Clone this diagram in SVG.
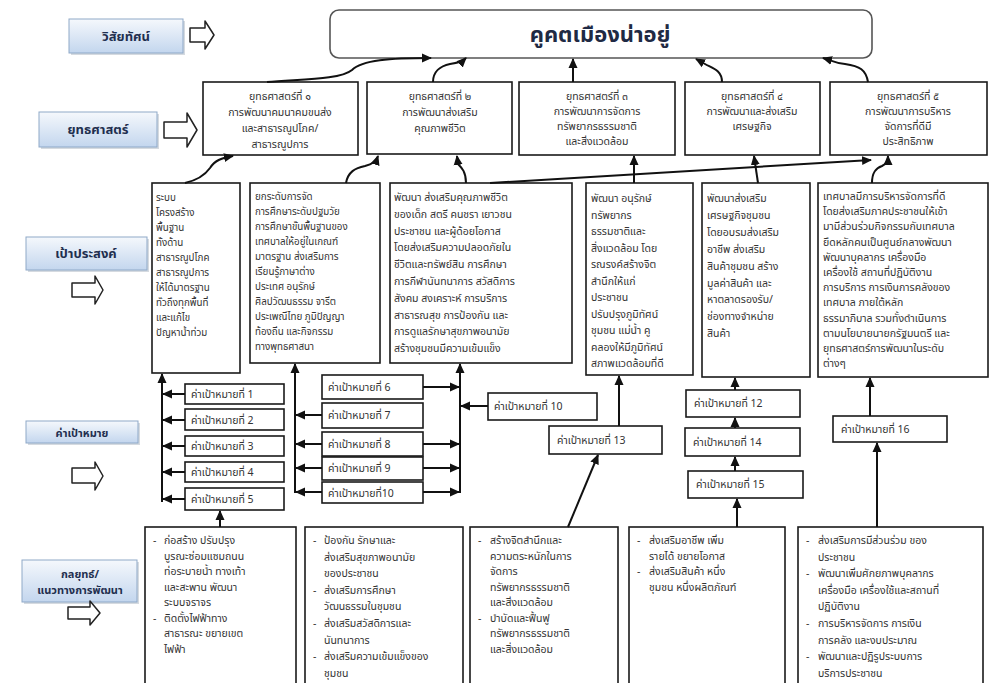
<svg xmlns="http://www.w3.org/2000/svg" width="989" height="683" viewBox="0 0 989 683">
<defs>
<linearGradient id="lg" x1="0" y1="0" x2="0" y2="1">
<stop offset="0" stop-color="#f5f8fc"/>
<stop offset="1" stop-color="#c3d6ee"/>
</linearGradient>
<marker id="ah" markerUnits="userSpaceOnUse" markerWidth="10" markerHeight="10" refX="9" refY="5" orient="auto">
<path d="M0,0.5 L10,5 L0,9.5 Z" fill="#111"/>
</marker>
<style>
.t{font-family:"Noto Sans Thai","Tahoma","Loma","Garuda","DejaVu Sans",sans-serif;font-size:10.5px;fill:#333}
.s{font-size:9.8px}
.c{text-anchor:middle}
.box{fill:#fff;stroke:#1a1a1a;stroke-width:1.6}
.lbl{fill:url(#lg);stroke:#8fa9c8;stroke-width:1}
.sh{fill:#b9c2cc;opacity:0.6}
.lt{font-family:"Noto Sans Thai","Tahoma","Loma","Garuda","DejaVu Sans",sans-serif;font-weight:bold;font-size:13px;fill:#1f2f4f;text-anchor:middle}
.con{fill:none;stroke:#111;stroke-width:2;marker-end:url(#ah)}
.blk{fill:#fff;stroke:#222;stroke-width:1.5;stroke-linejoin:round}
</style>
</defs>
<rect width="989" height="683" fill="#fff"/>

<!-- left labels -->
<g id="lbl-vision">
<rect class="sh" x="71" y="21" width="114" height="34"/>
<rect class="lbl" x="69" y="19" width="114" height="34"/>
<text class="lt" x="126" y="41">วิสัยทัศน์</text>
<path class="blk" d="M190 28 H205 V21 L214 35 L205 49 V42 H190 Z"/>
</g>
<g id="lbl-strategy">
<rect class="sh" x="41" y="114" width="118" height="35"/>
<rect class="lbl" x="39" y="112" width="118" height="35"/>
<text class="lt" x="98" y="134">ยุทธศาสตร์</text>
<path class="blk" d="M164 122 H187 V113 L197 130 L187 147 V138 H164 Z"/>
</g>
<g id="lbl-goal">
<rect class="sh" x="28" y="239" width="121" height="33"/>
<rect class="lbl" x="26" y="237" width="121" height="33"/>
<text class="lt" x="86" y="258">เป้าประสงค์</text>
<path class="blk" d="M72 283 H95 V276 L103 290 L95 304 V297 H72 Z"/>
</g>
<g id="lbl-target">
<rect class="sh" x="28" y="423" width="112" height="22"/>
<rect class="lbl" x="26" y="421" width="112" height="22"/>
<text class="lt" x="82" y="437" style="font-size:11px">ค่าเป้าหมาย</text>
<path class="blk" d="M72 468 H95 V462 L103 476 L95 490 V483 H72 Z"/>
</g>
<g id="lbl-tactic">
<rect class="sh" x="24" y="562" width="115" height="42"/>
<rect class="lbl" x="22" y="560" width="115" height="42"/>
<text class="lt" x="80" y="578" style="font-size:11px">กลยุทธ์/</text>
<text class="lt" x="80" y="594" style="font-size:11px">แนวทางการพัฒนา</text>
<path class="blk" d="M68 607 H90 V601 L100 613 L90 625 V619 H68 Z"/>
</g>

<!-- vision -->
<g id="vision">
<rect x="330" y="10" width="542" height="48" rx="9" fill="#fff" stroke="#555" stroke-width="1.6"/>
<text class="t c" x="600" y="42" style="font-size:22px;font-weight:bold;fill:#1f2a44">คูคตเมืองน่าอยู่</text>
</g>

<!-- strategies -->
<g id="s1">
<rect class="box" x="203" y="82" width="155" height="73"/>
<text class="t c" x="280" y="100"><tspan x="280">ยุทธศาสตร์ที่ ๑</tspan><tspan x="280" dy="16">การพัฒนาคมนาคมขนส่ง</tspan><tspan x="280" dy="16">และสาธารณูปโภค/</tspan><tspan x="280" dy="16">สาธารณูปการ</tspan></text>
</g>
<g id="s2">
<rect class="box" x="367" y="82" width="145" height="72"/>
<text class="t c" x="440" y="100"><tspan x="440">ยุทธศาสตร์ที่ ๒</tspan><tspan x="440" dy="16">การพัฒนาส่งเสริม</tspan><tspan x="440" dy="16">คุณภาพชีวิต</tspan></text>
</g>
<g id="s3">
<rect class="box" x="519" y="82" width="156" height="73"/>
<text class="t c" x="597" y="100"><tspan x="597">ยุทธศาสตร์ที่ ๓</tspan><tspan x="597" dy="15">การพัฒนาการจัดการ</tspan><tspan x="597" dy="15">ทรัพยากรธรรมชาติ</tspan><tspan x="597" dy="15">และสิ่งแวดล้อม</tspan></text>
</g>
<g id="s4">
<rect class="box" x="685" y="82" width="135" height="73"/>
<text class="t c" x="752" y="100"><tspan x="752">ยุทธศาสตร์ที่ ๔</tspan><tspan x="752" dy="15">การพัฒนาและส่งเสริม</tspan><tspan x="752" dy="15">เศรษฐกิจ</tspan></text>
</g>
<g id="s5">
<rect class="box" x="830" y="82" width="157" height="73"/>
<text class="t c" x="908" y="100"><tspan x="908">ยุทธศาสตร์ที่ ๕</tspan><tspan x="908" dy="15">การพัฒนาการบริหาร</tspan><tspan x="908" dy="15">จัดการที่ดีมี</tspan><tspan x="908" dy="15">ประสิทธิภาพ</tspan></text>
</g>

<!-- goals -->
<g id="g1">
<rect class="box" x="152" y="183" width="88" height="190"/>
<text class="t s" x="156" y="201"><tspan x="156">ระบบ</tspan><tspan x="156" dy="15">โครงสร้าง</tspan><tspan x="156" dy="15">พื้นฐาน</tspan><tspan x="156" dy="15">ทั้งด้าน</tspan><tspan x="156" dy="15">สาธารณูปโภค</tspan><tspan x="156" dy="15">สาธารณูปการ</tspan><tspan x="156" dy="15">ให้ได้มาตรฐาน</tspan><tspan x="156" dy="15">ทั่วถึงทุกพื้นที่</tspan><tspan x="156" dy="15">และแก้ไข</tspan><tspan x="156" dy="15">ปัญหาน้ำท่วม</tspan></text>
</g>
<g id="g2">
<rect class="box" x="250" y="183" width="130" height="180"/>
<text class="t s" x="255" y="200"><tspan x="255">ยกระดับการจัด</tspan><tspan x="255" dy="15">การศึกษาระดับปฐมวัย</tspan><tspan x="255" dy="15">การศึกษาขั้นพื้นฐานของ</tspan><tspan x="255" dy="15">เทศบาลให้อยู่ในเกณฑ์</tspan><tspan x="255" dy="15">มาตรฐาน ส่งเสริมการ</tspan><tspan x="255" dy="15">เรียนรู้ภาษาต่าง</tspan><tspan x="255" dy="15">ประเทศ อนุรักษ์</tspan><tspan x="255" dy="15">ศิลปวัฒนธรรม จารีต</tspan><tspan x="255" dy="15">ประเพณีไทย ภูมิปัญญา</tspan><tspan x="255" dy="15">ท้องถิ่น และกิจกรรม</tspan><tspan x="255" dy="15">ทางพุทธศาสนา</tspan></text>
</g>
<g id="g3">
<rect class="box" x="390" y="183" width="182" height="180"/>
<text class="t" x="394" y="201"><tspan x="394">พัฒนา ส่งเสริมคุณภาพชีวิต</tspan><tspan x="394" dy="16.8">ของเด็ก สตรี คนชรา เยาวชน</tspan><tspan x="394" dy="16.8">ประชาชน และผู้ด้อยโอกาส</tspan><tspan x="394" dy="16.8">โดยส่งเสริมความปลอดภัยใน</tspan><tspan x="394" dy="16.8">ชีวิตและทรัพย์สิน การศึกษา</tspan><tspan x="394" dy="16.8">การกีฬานันทนาการ สวัสดิการ</tspan><tspan x="394" dy="16.8">สังคม สงเคราะห์ การบริการ</tspan><tspan x="394" dy="16.8">สาธารณสุข การป้องกัน และ</tspan><tspan x="394" dy="16.8">การดูแลรักษาสุขภาพอนามัย</tspan><tspan x="394" dy="16.8">สร้างชุมชนมีความเข้มแข็ง</tspan></text>
</g>
<g id="g4">
<rect class="box" x="586" y="183" width="107" height="192"/>
<text class="t" x="591" y="202"><tspan x="591">พัฒนา อนุรักษ์</tspan><tspan x="591" dy="16.5">ทรัพยากร</tspan><tspan x="591" dy="16.5">ธรรมชาติและ</tspan><tspan x="591" dy="16.5">สิ่งแวดล้อม โดย</tspan><tspan x="591" dy="16.5">รณรงค์สร้างจิต</tspan><tspan x="591" dy="16.5">สำนึกให้แก่</tspan><tspan x="591" dy="16.5">ประชาชน</tspan><tspan x="591" dy="16.5">ปรับปรุงภูมิทัศน์</tspan><tspan x="591" dy="16.5">ชุมชน แม่น้ำ คู</tspan><tspan x="591" dy="16.5">คลองให้มีภูมิทัศน์</tspan><tspan x="591" dy="16.5">สภาพแวดล้อมที่ดี</tspan></text>
</g>
<g id="g5">
<rect class="box" x="702" y="183" width="108" height="194"/>
<text class="t" x="707" y="202"><tspan x="707">พัฒนาส่งเสริม</tspan><tspan x="707" dy="16.9">เศรษฐกิจชุมชน</tspan><tspan x="707" dy="16.9">โดยอบรมส่งเสริม</tspan><tspan x="707" dy="16.9">อาชีพ ส่งเสริม</tspan><tspan x="707" dy="16.9">สินค้าชุมชน สร้าง</tspan><tspan x="707" dy="16.9">มูลค่าสินค้า และ</tspan><tspan x="707" dy="16.9">หาตลาดรองรับ/</tspan><tspan x="707" dy="16.9">ช่องทางจำหน่าย</tspan><tspan x="707" dy="16.9">สินค้า</tspan></text>
</g>
<g id="g6">
<rect class="box" x="818" y="183" width="170" height="194"/>
<text class="t" x="823" y="200"><tspan x="823">เทศบาลมีการบริหารจัดการที่ดี</tspan><tspan x="823" dy="15.2">โดยส่งเสริมภาคประชาชนให้เข้า</tspan><tspan x="823" dy="15.2">มามีส่วนร่วมกิจกรรมกับเทศบาล</tspan><tspan x="823" dy="15.2">ยึดหลักคนเป็นศูนย์กลางพัฒนา</tspan><tspan x="823" dy="15.2">พัฒนาบุคลากร เครื่องมือ</tspan><tspan x="823" dy="15.2">เครื่องใช้ สถานที่ปฏิบัติงาน</tspan><tspan x="823" dy="15.2">การบริการ การเงินการคลังของ</tspan><tspan x="823" dy="15.2">เทศบาล ภายใต้หลัก</tspan><tspan x="823" dy="15.2">ธรรมาภิบาล รวมทั้งดำเนินการ</tspan><tspan x="823" dy="15.2">ตามนโยบายนายกรัฐมนตรี และ</tspan><tspan x="823" dy="15.2">ยุทธศาสตร์การพัฒนาในระดับ</tspan><tspan x="823" dy="15.2">ต่างๆ</tspan></text>
</g>

<!-- targets -->
<g id="k1"><rect class="box" x="185" y="384" width="99" height="20"/><text class="t" x="191" y="398">ค่าเป้าหมายที่ 1</text></g>
<g id="k2"><rect class="box" x="185" y="409" width="99" height="21"/><text class="t" x="191" y="424">ค่าเป้าหมายที่ 2</text></g>
<g id="k3"><rect class="box" x="185" y="436" width="99" height="20"/><text class="t" x="191" y="450">ค่าเป้าหมายที่ 3</text></g>
<g id="k4"><rect class="box" x="185" y="462" width="99" height="20"/><text class="t" x="191" y="476">ค่าเป้าหมายที่ 4</text></g>
<g id="k5"><rect class="box" x="185" y="488" width="99" height="22"/><text class="t" x="191" y="503">ค่าเป้าหมายที่ 5</text></g>
<g id="k6"><rect class="box" x="322" y="375" width="101" height="24"/><text class="t" x="328" y="391">ค่าเป้าหมายที่ 6</text></g>
<g id="k7"><rect class="box" x="322" y="403" width="101" height="25"/><text class="t" x="328" y="419">ค่าเป้าหมายที่ 7</text></g>
<g id="k8"><rect class="box" x="322" y="432" width="101" height="24"/><text class="t" x="328" y="448">ค่าเป้าหมายที่ 8</text></g>
<g id="k9"><rect class="box" x="322" y="457" width="101" height="23"/><text class="t" x="328" y="472">ค่าเป้าหมายที่ 9</text></g>
<g id="k10"><rect class="box" x="322" y="482" width="101" height="21"/><text class="t" x="328" y="497">ค่าเป้าหมายที่10</text></g>
<g id="k10b"><rect class="box" x="488" y="393" width="109" height="27"/><text class="t" x="494" y="410">ค่าเป้าหมายที่ 10</text></g>
<g id="k13"><rect class="box" x="549" y="426" width="113" height="28"/><text class="t" x="557" y="444">ค่าเป้าหมายที่ 13</text></g>
<g id="k12"><rect class="box" x="686" y="390" width="114" height="27"/><text class="t" x="694" y="407">ค่าเป้าหมายที่ 12</text></g>
<g id="k14"><rect class="box" x="685" y="428" width="115" height="28"/><text class="t" x="693" y="446">ค่าเป้าหมายที่ 14</text></g>
<g id="k15"><rect class="box" x="688" y="471" width="115" height="27"/><text class="t" x="696" y="488">ค่าเป้าหมายที่ 15</text></g>
<g id="k16"><rect class="box" x="833" y="416" width="114" height="26"/><text class="t" x="841" y="433">ค่าเป้าหมายที่ 16</text></g>

<!-- tactics -->
<g id="b1">
<rect class="box" x="145" y="527" width="151" height="170"/>
<text class="t" y="544"><tspan x="153">-</tspan><tspan x="164">ก่อสร้าง ปรับปรุง</tspan><tspan x="164" dy="15.5">บูรณะซ่อมแซมถนน</tspan><tspan x="164" dy="15.5">ท่อระบายน้ำ ทางเท้า</tspan><tspan x="164" dy="15.5">และสะพาน พัฒนา</tspan><tspan x="164" dy="15.5">ระบบจราจร</tspan><tspan x="153" dy="15.5">-</tspan><tspan x="164">ติดตั้งไฟฟ้าทาง</tspan><tspan x="164" dy="15.5">สาธารณะ ขยายเขต</tspan><tspan x="164" dy="15.5">ไฟฟ้า</tspan></text>
</g>
<g id="b2">
<rect class="box" x="305" y="527" width="158" height="170"/>
<text class="t" y="544"><tspan x="313">-</tspan><tspan x="324">ป้องกัน รักษาและ</tspan><tspan x="324" dy="16.6">ส่งเสริมสุขภาพอนามัย</tspan><tspan x="324" dy="16.6">ของประชาชน</tspan><tspan x="313" dy="16.6">-</tspan><tspan x="324">ส่งเสริมการศึกษา</tspan><tspan x="324" dy="16.6">วัฒนธรรมในชุมชน</tspan><tspan x="313" dy="16.6">-</tspan><tspan x="324">ส่งเสริมสวัสดิการและ</tspan><tspan x="324" dy="16.6">นันทนาการ</tspan><tspan x="313" dy="16.6">-</tspan><tspan x="324">ส่งเสริมความเข้มแข็งของ</tspan><tspan x="324" dy="16.6">ชุมชน</tspan></text>
</g>
<g id="b3">
<rect class="box" x="470" y="527" width="148" height="170"/>
<text class="t" y="544"><tspan x="478">-</tspan><tspan x="490">สร้างจิตสำนึกและ</tspan><tspan x="490" dy="15.5">ความตระหนักในการ</tspan><tspan x="490" dy="15.5">จัดการ</tspan><tspan x="490" dy="15.5">ทรัพยากรธรรมชาติ</tspan><tspan x="490" dy="15.5">และสิ่งแวดล้อม</tspan><tspan x="478" dy="15.5">-</tspan><tspan x="490">บำบัดและฟื้นฟู</tspan><tspan x="490" dy="15.5">ทรัพยากรธรรมชาติ</tspan><tspan x="490" dy="15.5">และสิ่งแวดล้อม</tspan></text>
</g>
<g id="b4">
<rect class="box" x="629" y="527" width="156" height="170"/>
<text class="t" y="544"><tspan x="637">-</tspan><tspan x="649">ส่งเสริมอาชีพ เพิ่ม</tspan><tspan x="649" dy="15.5">รายได้ ขยายโอกาส</tspan><tspan x="637" dy="15.5">-</tspan><tspan x="649">ส่งเสริมสินค้า หนึ่ง</tspan><tspan x="649" dy="15.5">ชุมชน หนึ่งผลิตภัณฑ์</tspan></text>
</g>
<g id="b5">
<rect class="box" x="798" y="527" width="185" height="170"/>
<text class="t" y="544"><tspan x="806">-</tspan><tspan x="818">ส่งเสริมการมีส่วนร่วม ของ</tspan><tspan x="818" dy="16.6">ประชาชน</tspan><tspan x="806" dy="16.6">-</tspan><tspan x="818">พัฒนาเพิ่มศักยภาพบุคลากร</tspan><tspan x="818" dy="16.6">เครื่องมือ เครื่องใช้และสถานที่</tspan><tspan x="818" dy="16.6">ปฏิบัติงาน</tspan><tspan x="806" dy="16.6">-</tspan><tspan x="818">การบริหารจัดการ  การเงิน</tspan><tspan x="818" dy="16.6">การคลัง และงบประมาณ</tspan><tspan x="806" dy="16.6">-</tspan><tspan x="818">พัฒนาและปฏิรูประบบการ</tspan><tspan x="818" dy="16.6">บริการประชาชน</tspan></text>
</g>

<!-- connectors -->
<g id="connectors">
<path class="con" d="M267 82 C300 79 340 80 352 70 C362 60 390 58 431 58"/>
<path class="con" d="M433 82 C433 72 440 66 450 64 C458 63 462 62 466 58"/>
<path class="con" d="M573 82 L573 59"/>
<path class="con" d="M722 82 C722 70 712 68 705 64 L696 59"/>
<path class="con" d="M868 82 C866 70 860 66 845 64 C835 63 830 60 823 58"/>

<path class="con" d="M185 183 C198 180 205 175 210 168 C215 160 222 158 233 156"/>
<path class="con" d="M346 183 C348 172 355 168 365 166 C372 164 376 162 378 156"/>
<path class="con" d="M466 183 C466 172 462 168 458 164 L457 156"/>
<path class="con" d="M490 183 L871 160"/>
<path class="con" d="M634 183 L634 156"/>
<path class="con" d="M758 183 L754 156"/>
<path class="con" d="M872 183 C872 172 876 168 882 166 C886 164 888 162 888 156"/>

<path class="con" d="M162 502 L162 374"/>
<path class="con" d="M185 394 L163 394"/>
<path class="con" d="M185 420 L163 420"/>
<path class="con" d="M185 446 L163 446"/>
<path class="con" d="M185 472 L163 472"/>
<path class="con" d="M185 499 L163 499"/>
<path class="con" d="M220 527 L220 511"/>

<path class="con" d="M295 493 L295 364"/>
<path class="con" d="M322 415 L296 415"/>
<path class="con" d="M322 444 L296 444"/>
<path class="con" d="M322 468 L296 468"/>
<path class="con" d="M322 492 L296 492"/>
<path class="con" d="M460 493 L460 364"/>
<path class="con" d="M423 387 L459 387"/>
<path class="con" d="M423 444 L459 444"/>
<path class="con" d="M423 468 L459 468"/>
<path class="con" d="M423 492 L459 492"/>
<path class="con" d="M488 406 L461 406"/>

<path class="con" d="M619 426 L619 376"/>
<path class="con" d="M568 527 L598 455"/>
<path class="con" d="M735 390 L735 378"/>
<path class="con" d="M735 428 L735 418"/>
<path class="con" d="M735 471 L735 457"/>
<path class="con" d="M737 527 L737 499"/>
<path class="con" d="M870 416 L870 378"/>
<path class="con" d="M877 527 L877 443"/>
</g>
</svg>
